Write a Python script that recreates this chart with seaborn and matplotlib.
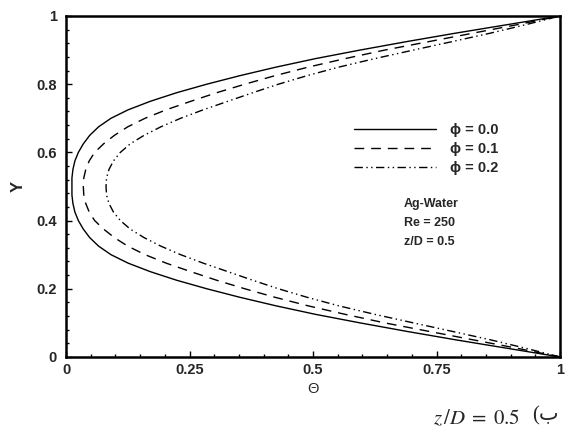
import numpy as np
import pandas as pd
import matplotlib
matplotlib.use("Agg")
import matplotlib.pyplot as plt
from matplotlib.ticker import MultipleLocator
import seaborn as sns

# ---- data (Theta vs Y, three volume fractions) ----
y_pos = [0.0, 0.025, 0.05, 0.075, 0.1, 0.125, 0.15, 0.175, 0.2, 0.225,
         0.25, 0.275, 0.3, 0.325, 0.35, 0.375, 0.4, 0.425, 0.45, 0.475,
         0.5, 0.525, 0.55, 0.575, 0.6, 0.625, 0.65, 0.675, 0.7, 0.725,
         0.75, 0.775, 0.8, 0.825, 0.85, 0.875, 0.9, 0.925, 0.95, 0.975, 1.0]

theta_phi00 = [1.0, 0.895, 0.79, 0.69, 0.595, 0.505, 0.425, 0.352, 0.285, 0.224,
               0.171, 0.126, 0.091, 0.066, 0.048, 0.035, 0.025, 0.018, 0.014, 0.012,
               0.012, 0.012, 0.014, 0.018, 0.025, 0.035, 0.048, 0.066, 0.091, 0.126,
               0.171, 0.224, 0.285, 0.352, 0.425, 0.505, 0.595, 0.69, 0.79, 0.895, 1.0]

theta_phi01 = [1.0, 0.915, 0.825, 0.735, 0.645, 0.565, 0.49, 0.423, 0.362, 0.305,
               0.253, 0.203, 0.16, 0.125, 0.098, 0.076, 0.058, 0.047, 0.04, 0.036,
               0.035, 0.036, 0.04, 0.047, 0.058, 0.076, 0.098, 0.125, 0.16, 0.203,
               0.253, 0.305, 0.362, 0.423, 0.49, 0.565, 0.645, 0.735, 0.825, 0.915, 1.0]

theta_phi02 = [1.0, 0.932, 0.86, 0.782, 0.703, 0.625, 0.552, 0.488, 0.43, 0.378,
               0.328, 0.278, 0.232, 0.192, 0.158, 0.13, 0.11, 0.096, 0.087, 0.082,
               0.081, 0.082, 0.087, 0.096, 0.11, 0.13, 0.158, 0.192, 0.232, 0.278,
               0.328, 0.378, 0.43, 0.488, 0.552, 0.625, 0.703, 0.782, 0.86, 0.932, 1.0]

phi_labels = ["ϕ = 0.0", "ϕ = 0.1", "ϕ = 0.2"]
case_lines = ["Ag-Water", "Re = 250", "z/D = 0.5"]
x_ticks = [0, 0.25, 0.5, 0.75, 1]
x_ticklabels = ["0", "0.25", "0.5", "0.75", "1"]
y_ticks = [0, 0.2, 0.4, 0.6, 0.8, 1]
y_ticklabels = ["0", "0.2", "0.4", "0.6", "0.8", "1"]

# ---- style ----
sns.set_theme(style="white")
plt.rcParams["font.family"] = ["Liberation Sans", "DejaVu Sans"]
plt.rcParams["mathtext.fontset"] = "stix"

fig = plt.figure(figsize=(5.75, 4.38), dpi=100)
ax = fig.add_axes([0.1148, 0.185, 0.8592, 0.7785])

line_styles = ["-", (0, (7, 5)), (0, (6, 2.5, 1, 2.5, 1, 2.5))]
for theta, lab, ls in zip([theta_phi00, theta_phi01, theta_phi02], phi_labels, line_styles):
    sns.lineplot(x=theta, y=y_pos, sort=False, estimator=None, ax=ax,
                 color="black", linewidth=1.0, linestyle=ls, label=lab)

ax.set_xlim(0, 1)
ax.set_ylim(0, 1)
ax.set_xticks(x_ticks)
ax.set_xticklabels(x_ticklabels)
ax.set_yticks(y_ticks)
ax.set_yticklabels(y_ticklabels)
ax.xaxis.set_minor_locator(MultipleLocator(0.05))
ax.yaxis.set_minor_locator(MultipleLocator(0.04))
ax.tick_params(which="both", direction="in", top=False, right=False,
               bottom=True, left=True, color="black", width=1.0)
ax.tick_params(which="major", length=4.5)
ax.tick_params(which="minor", length=2)
ax.tick_params(axis="x", which="major", pad=4.5)
ax.tick_params(axis="y", which="major", pad=6.5)
for lbl in ax.get_xticklabels() + ax.get_yticklabels():
    lbl.set_fontweight("bold")
    lbl.set_fontsize(10.5)

for sp in ax.spines.values():
    sp.set_color("black")
    sp.set_linewidth(1.8)

ax.set_xlabel("Θ", fontsize=10.5)
ax.set_ylabel("Y", fontsize=12, fontweight="bold")
ax.xaxis.set_label_coords(0.5, -0.094)
ax.xaxis.label.set_va("center")
ax.yaxis.set_label_coords(-0.097, 0.5)
ax.yaxis.label.set_va("center")

leg = ax.legend(loc="upper left", bbox_to_anchor=(0.583, 0.687), frameon=False,
                borderpad=0, borderaxespad=0, handlelength=5.6, handletextpad=1.0,
                labelspacing=0.35, prop={"weight": "bold", "size": 10.5})

for i, t in enumerate(case_lines):
    ax.text(0.684, 0.448 - i * 0.056, t, transform=ax.transAxes, ha="left",
            va="center", fontsize=9, fontweight="bold")

# caption under the chart
fig.text(0.904, 0.0457, r"$z\,/D\;=\;0.5$", ha="right", va="center", fontsize=15)
fig.text(0.925, 0.05, "(ب", ha="left", va="center", fontsize=15,
         family=["Liberation Serif", "DejaVu Sans"])

fig.savefig("out.png", dpi=100, facecolor="white")
